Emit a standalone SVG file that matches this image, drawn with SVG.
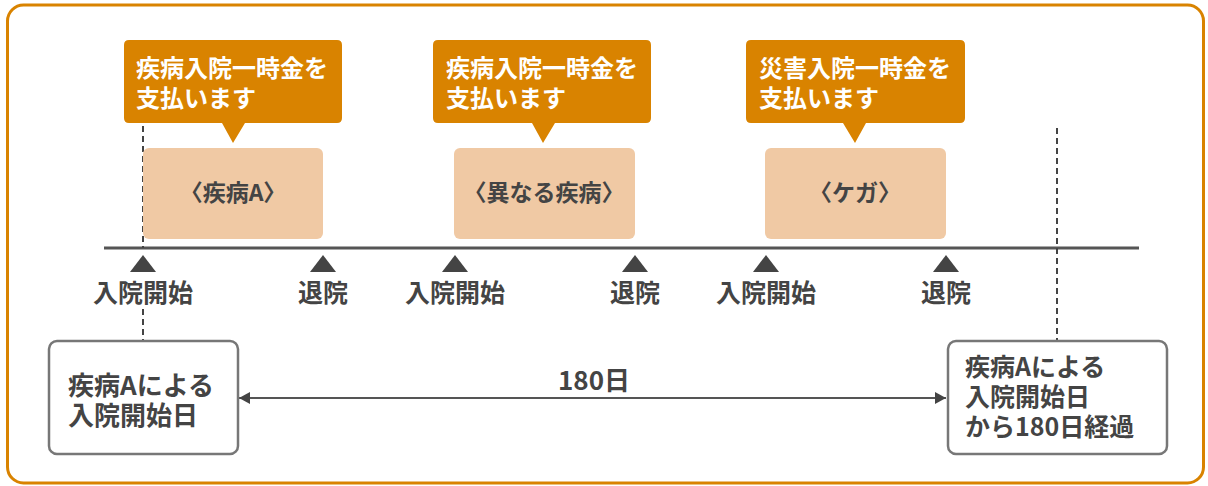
<svg xmlns="http://www.w3.org/2000/svg" width="1208" height="486" viewBox="0 0 1208 486">
<defs>
<style>
.frame{fill:#fff;stroke:#D98300;stroke-width:3}
.callout{fill:#D98300}
.ct{font-family:"Noto Sans CJK JP","Noto Sans",sans-serif;font-size:24px;font-weight:700;fill:#fff}
.period{fill:#F0C9A4}
.pt{font-family:"Noto Sans CJK JP","Noto Sans",sans-serif;font-size:23px;font-weight:700;fill:#444;text-anchor:middle}
.tl{stroke:#555;stroke-width:3}
.tri{fill:#444}
.lbl{font-family:"Noto Sans CJK JP","Noto Sans",sans-serif;font-size:25px;font-weight:700;fill:#444;text-anchor:middle}
.dash{stroke:#444;stroke-width:2;stroke-dasharray:6 4;fill:none}
.box{fill:#fff;stroke:#777;stroke-width:2.5}
.bt{font-family:"Noto Sans CJK JP","Noto Sans",sans-serif;font-size:26px;font-weight:700;fill:#444}
.arr{stroke:#555;stroke-width:2;fill:none}
</style>
<marker id="ah" markerWidth="12" markerHeight="12" refX="11" refY="6" orient="auto-start-reverse" markerUnits="userSpaceOnUse">
<path d="M0,0 L11,6 L0,12 Z" fill="#444"/>
</marker>
</defs>
<rect class="frame" x="7.5" y="5" width="1196" height="478" rx="16"/>

<g id="connectors">
<line class="tl" x1="104" y1="248" x2="1139" y2="248"/>
<line class="dash" x1="143" y1="126" x2="143" y2="248"/>
<line class="dash" x1="143" y1="309" x2="143" y2="340"/>
<line class="dash" x1="1057" y1="128" x2="1057" y2="340"/>
<line class="arr" x1="239" y1="398" x2="946" y2="398" marker-start="url(#ah)" marker-end="url(#ah)"/>
<text class="lbl" x="594" y="390" style="font-size:26px">180日</text>
</g>

<g id="callout1">
<path class="callout" d="M129,40 H337 Q342,40 342,45 V118 Q342,123 337,123 H245 L233,143 L222,123 H129 Q124,123 124,118 V45 Q124,40 129,40 Z"/>
<text class="ct" x="136" y="77">疾病入院一時金を</text>
<text class="ct" x="136" y="107">支払います</text>
</g>
<g id="callout2">
<path class="callout" d="M438,40 H646 Q651,40 651,45 V118 Q651,123 646,123 H555 L543,143 L532,123 H438 Q433,123 433,118 V45 Q433,40 438,40 Z"/>
<text class="ct" x="446" y="77">疾病入院一時金を</text>
<text class="ct" x="446" y="107">支払います</text>
</g>
<g id="callout3">
<path class="callout" d="M751,40 H960 Q965,40 965,45 V118 Q965,123 960,123 H866 L855,143 L843,123 H751 Q746,123 746,118 V45 Q746,40 751,40 Z"/>
<text class="ct" x="759" y="77">災害入院一時金を</text>
<text class="ct" x="759" y="107">支払います</text>
</g>

<g id="period1">
<rect class="period" x="143" y="148" width="180" height="91" rx="6"/>
<text class="pt" x="233" y="201">〈疾病A〉</text>
</g>
<g id="period2">
<rect class="period" x="454" y="148" width="181" height="91" rx="6"/>
<text class="pt" x="544" y="201">〈異なる疾病〉</text>
</g>
<g id="period3">
<rect class="period" x="765" y="148" width="181" height="91" rx="6"/>
<text class="pt" x="855" y="201">〈ケガ〉</text>
</g>

<g id="marker1"><path class="tri" d="M130,272 L143,255 L156,272 Z"/><text class="lbl" x="143" y="302">入院開始</text></g>
<g id="marker2"><path class="tri" d="M310,272 L323,255 L336,272 Z"/><text class="lbl" x="323" y="302">退院</text></g>
<g id="marker3"><path class="tri" d="M442,272 L455,255 L468,272 Z"/><text class="lbl" x="455" y="302">入院開始</text></g>
<g id="marker4"><path class="tri" d="M622,272 L635,255 L648,272 Z"/><text class="lbl" x="635" y="302">退院</text></g>
<g id="marker5"><path class="tri" d="M753,272 L766,255 L779,272 Z"/><text class="lbl" x="766" y="302">入院開始</text></g>
<g id="marker6"><path class="tri" d="M933,272 L946,255 L959,272 Z"/><text class="lbl" x="946" y="302">退院</text></g>

<g id="start">
<rect class="box" x="49" y="341" width="189" height="113" rx="8"/>
<text class="bt" x="68" y="395">疾病Aによる</text>
<text class="bt" x="68" y="425">入院開始日</text>
</g>
<g id="end">
<rect class="box" x="948" y="341" width="219" height="113" rx="8"/>
<text class="bt" x="965" y="376" style="font-size:25px">疾病Aによる</text>
<text class="bt" x="965" y="406" style="font-size:25px">入院開始日</text>
<text class="bt" x="965" y="436" style="font-size:25px">から180日経過</text>
</g>
</svg>
